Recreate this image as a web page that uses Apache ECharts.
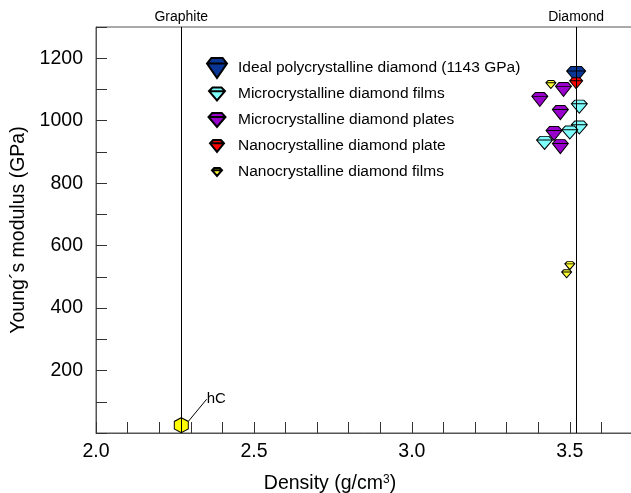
<!DOCTYPE html>
<html>
<head>
<meta charset="utf-8">
<script src="https://cdn.jsdelivr.net/npm/echarts@6/dist/echarts.min.js"></script>
<style>
    html, body { margin: 0; padding: 0; background: #fff; }
    #chart1 { width: 631px; height: 493px; }
</style>
</head>
<body>
<div id="chart1"></div>
<script>
// density (g/cm3), Young's modulus (GPa)
var idealPoly = [[3.52, 1148]]
var microFilms = [[3.53, 1045], [3.53, 978], [3.50, 962], [3.42, 929]]
var microPlates = [[3.48, 1100], [3.405, 1068], [3.47, 1026], [3.45, 959], [3.47, 917]]
var nanoPlate = [[3.52, 1120]]
var nanoFilms = [[3.44, 1116], [3.50, 536], [3.49, 510]]
var hexCarbon = [[2.27, 25]]
var phaseNames = ['Graphite', 'Diamond']
var phaseDensity = [2.272, 3.515]
var xLabels = [2.0, 2.5, 3.0, 3.5]
var yLabels = [200, 400, 600, 800, 1000, 1200]

var FONT = '"Liberation Sans", Arial, sans-serif'

// gem outline with girdle line
function gem (cx, cy, w, h) {
    var l = cx - w / 2, r = cx + w / 2, t = cy - h / 2, b = cy + h / 2, g = t + h * 0.28
    return 'M' + (l + w * 0.22) + ' ' + t + ' L' + (r - w * 0.22) + ' ' + t + ' L' + r + ' ' + g +
        ' L' + cx + ' ' + b + ' L' + l + ' ' + g + ' Z M' + l + ' ' + g + ' L' + r + ' ' + g
}
var gemSymbol = 'path://' + gem(50, 50, 100, 100)
// legend icon: fixed 160x100 box so every gem keeps its own size
function legendGem (w, h) {
    return 'path://M0 0 M160 100 ' + gem(80, 50, w * 5, h * 5)
}
var hexSymbol = 'path://M50 0 L93.3 25 L93.3 75 L50 100 L6.7 75 L6.7 25 Z'

var seriesDefs = [
    { name: 'Ideal polycrystalline diamond (1143 GPa)', data: idealPoly, color: '#0a3796', size: [19, 16], icon: [20, 20] },
    { name: 'Microcrystalline diamond films', data: microFilms, color: '#80ffff', size: [16, 13], icon: [16, 13] },
    { name: 'Microcrystalline diamond plates', data: microPlates, color: '#9900cc', size: [16, 14], icon: [17, 14] },
    { name: 'Nanocrystalline diamond plate', data: nanoPlate, color: '#ff0000', size: [13, 11], icon: [14, 12] },
    { name: 'Nanocrystalline diamond films', data: nanoFilms, color: '#ffff33', size: [10, 8], icon: [10, 8] }
]

function _initChart () {
    var myChart = echarts.init(document.getElementById('chart1'))
    var series = [{
        name: 'phase',
        type: 'scatter',
        data: [],
        markLine: {
            silent: true,
            symbol: 'none',
            lineStyle: { color: '#000', type: 'solid', width: 1 },
            label: { position: 'end', distance: 3, color: '#000', fontSize: 14, fontFamily: FONT },
            data: phaseDensity.map(function (x, i) {
                return { xAxis: x, label: { formatter: phaseNames[i] } }
            })
        }
    }]
    seriesDefs.forEach(function (s) {
        series.push({
            name: s.name,
            type: 'scatter',
            symbol: gemSymbol,
            symbolSize: s.size,
            itemStyle: { color: s.color, borderColor: '#000', borderWidth: 1, opacity: 1 },
            data: s.data
        })
    })
    series.push({
        name: 'hC',
        type: 'scatter',
        symbol: hexSymbol,
        symbolSize: [14, 15],
        itemStyle: { color: '#ffff00', borderColor: '#000', borderWidth: 1, opacity: 1 },
        label: { show: true, position: 'inside', formatter: 'hC', color: '#000', fontSize: 15, fontFamily: FONT },
        labelLayout: { dx: 35, dy: -26 },
        labelLine: { show: true, lineStyle: { color: '#000', width: 1 } },
        data: hexCarbon
    })

    var option = {
        animation: false,
        textStyle: { fontFamily: FONT },
        grid: {
            left: 96,
            top: 27,
            width: 537,
            height: 406,
            outerBoundsMode: 'none',
            show: true,
            borderColor: '#555',
            borderWidth: 1
        },
        legend: {
            orient: 'vertical',
            left: 200,
            top: 57,
            padding: 0,
            itemWidth: 32,
            itemHeight: 20,
            itemGap: 4,
            selectedMode: false,
            textStyle: { color: '#000', fontSize: 15.5, fontFamily: FONT },
            data: seriesDefs.map(function (s) {
                return { name: s.name, icon: legendGem(s.icon[0], s.icon[1]) }
            })
        },
        xAxis: {
            type: 'value',
            min: 2.0,
            max: 3.7,
            interval: 0.1,
            name: 'Density (g/cm{sup|3})',
            nameLocation: 'middle',
            nameGap: 41,
            nameTextStyle: {
                color: '#000', fontSize: 19.5, fontFamily: FONT, padding: [0, 69, 0, 0],
                rich: { sup: { fontSize: 12, verticalAlign: 'top', color: '#000', fontFamily: FONT } }
            },
            axisLine: { lineStyle: { color: '#555', width: 1 } },
            axisTick: { inside: true, length: 11, lineStyle: { color: '#333' } },
            axisLabel: {
                color: '#000',
                fontSize: 19.5,
                margin: 9,
                formatter: function (v) {
                    var hit = xLabels.some(function (x) { return Math.abs(x - v) < 1e-6 })
                    return hit ? v.toFixed(1) : ''
                }
            },
            splitLine: { show: false }
        },
        yAxis: {
            type: 'value',
            min: 0,
            max: 1300,
            interval: 100,
            name: 'Young´s modulus (GPa)',
            nameLocation: 'middle',
            nameGap: 63,
            nameTextStyle: { color: '#000', fontSize: 19.5, fontFamily: FONT },
            axisLine: { show: true, lineStyle: { color: '#555', width: 1 } },
            axisTick: { inside: true, length: 11, lineStyle: { color: '#333' } },
            axisLabel: {
                color: '#000',
                fontSize: 19.5,
                margin: 13,
                formatter: function (v) {
                    return yLabels.indexOf(v) >= 0 ? String(v) : ''
                }
            },
            splitLine: { show: false }
        },
        series: series
    }
    myChart.setOption(option)
    window.addEventListener('resize', function () {
        myChart.resize()
    })
}

_initChart()
</script>
</body>
</html>
